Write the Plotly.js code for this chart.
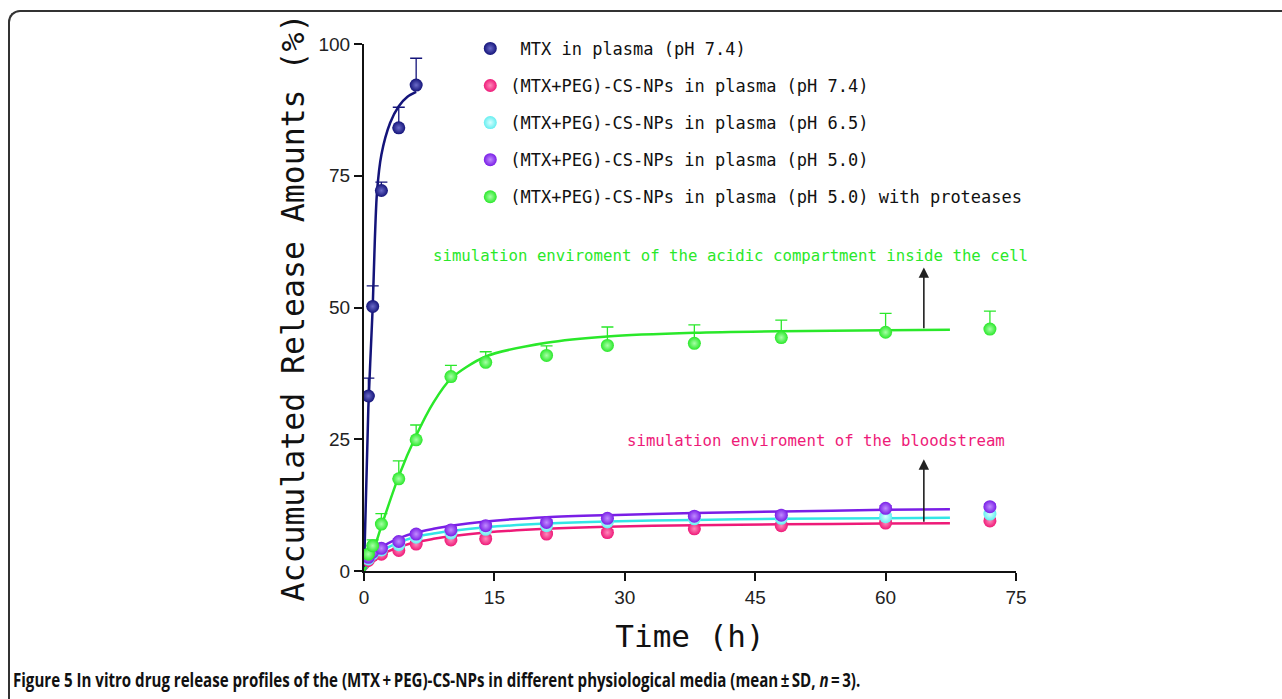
<!DOCTYPE html>
<html>
<head>
<meta charset="utf-8">
<script src="https://cdn.plot.ly/plotly-3.0.1.min.js"></script>
<style>
  html, body { margin:0; padding:0; background:#fff; }
  #wrap { position:relative; width:1282px; height:699px; overflow:hidden; }
  #frame { position:absolute; left:8px; top:10px; width:1300px; height:720px;
           border-left:2px solid #333; border-top:2px solid #333; border-top-left-radius:12px; pointer-events:none; z-index:2; }
  #chart { position:absolute; left:0; top:0; width:1282px; height:699px; }
</style>
</head>
<body>
<div id="wrap">
  <div id="chart"></div>
  <div id="frame"></div>
</div>
<script>
// ---- data ----
const seriesNames = [
  "\u00a0MTX in plasma (pH 7.4)",
  "(MTX+PEG)-CS-NPs in plasma (pH 7.4)",
  "(MTX+PEG)-CS-NPs in plasma (pH 6.5)",
  "(MTX+PEG)-CS-NPs in plasma (pH 5.0)",
  "(MTX+PEG)-CS-NPs in plasma (pH 5.0) with proteases"
];
const seriesColors = ["#14147a", "#ee1a78", "#66eef0", "#7a1ee6", "#2ae82a"];
const lineColors   = ["#14147a", "#ee1a78", "#33e6e6", "#7a1ee6", "#2ae82a"];
const highlightColors = ["#6a6ac8", "#ff88bb", "#d8ffff", "#c08cff", "#a8ffa8"];

// measured points
const timeMTX = [0.5, 1, 2, 4, 6];
const mtxPlasma74 = [33.2, 50.2, 72.2, 84.1, 92.2];
const mtxPlasma74Err = [3.4, 3.9, 1.6, 3.9, 5.1];

const timeNP = [0.5, 1, 2, 4, 6, 10, 14, 21, 28, 38, 48, 60, 72];
const npPH74 = [2.0, 2.9, 3.2, 3.9, 5.1, 5.9, 6.1, 7.0, 7.3, 8.0, 8.6, 9.1, 9.5];
const npPH74Err = [0.4, 0.4, 0.4, 0.5, 0.5, 0.5, 0.5, 0.5, 0.5, 0.5, 0.5, 0.5, 0.5];
const npPH65 = [2.3, 3.3, 4.0, 5.0, 6.4, 7.2, 7.9, 8.6, 9.3, 9.9, 10.0, 10.3, 10.8];
const npPH65Err = [0.4, 0.4, 0.4, 0.5, 0.5, 0.5, 0.5, 0.5, 0.5, 0.5, 0.5, 0.5, 0.5];
const npPH50 = [2.6, 3.6, 4.3, 5.6, 7.0, 7.8, 8.6, 9.2, 10.0, 10.4, 10.6, 11.9, 12.2];
const npPH50Err = [0.4, 0.4, 0.4, 0.5, 0.5, 0.5, 0.5, 0.5, 0.5, 0.5, 0.5, 0.5, 0.5];
const npPH50Prot = [3.2, 4.8, 8.9, 17.5, 24.9, 36.9, 39.6, 40.9, 42.8, 43.2, 44.3, 45.3, 45.9];
const npPH50ProtErr = [0.8, 1.1, 2.0, 3.4, 2.8, 2.1, 2.0, 1.8, 3.5, 3.5, 3.3, 3.6, 3.4];

// fitted curves
const fitTimeMTX = [0, 0.5, 1, 1.25, 1.5, 2, 3, 4, 5, 6];
const fitMTX = [0, 31, 50, 63, 72, 79, 85, 88.2, 90, 90.9];

const fitTimeNP = [0, 1, 2, 4, 6, 8, 10, 14, 21, 28, 38, 48, 60, 67.4];
const fitPH74 = [0, 1.8, 3.1, 4.5, 5.5, 6.1, 6.6, 7.3, 8.0, 8.4, 8.7, 8.85, 9.0, 9.05];
const fitPH65 = [0, 2.3, 3.8, 5.4, 6.5, 7.1, 7.6, 8.3, 9.0, 9.4, 9.7, 9.9, 10.0, 10.1];
const fitPH50 = [0, 2.8, 4.5, 6.2, 7.3, 8.0, 8.6, 9.4, 10.2, 10.6, 11.0, 11.3, 11.6, 11.7];
const fitPH50Prot = [0, 3.5, 8.5, 18.0, 25.7, 32.0, 36.5, 40.7, 43.3, 44.5, 45.2, 45.5, 45.7, 45.8];

const xTicks = [0, 15, 30, 45, 60, 75];
const yTicks = [0, 25, 50, 75, 100];

const xTitle = "\u00a0Time (h)";
const yTitle = "Accumulated Release Amounts (%)\u00a0";
const noteAcid = "simulation enviroment of the acidic compartment inside the cell";
const noteBlood = "simulation enviroment of the bloodstream";
const caption = "<b>Figure 5 In vitro drug release profiles of the (MTX\u2009+\u2009PEG)-CS-NPs in different physiological media (mean\u2009\u00b1\u2009SD, <i>n</i>\u2009=\u20093).</b>";

// ---- traces ----
const mono = "DejaVu Sans Mono, Liberation Mono, monospace";
const fitSets = [
  [fitTimeMTX, fitMTX],
  [fitTimeNP, fitPH74],
  [fitTimeNP, fitPH65],
  [fitTimeNP, fitPH50],
  [fitTimeNP, fitPH50Prot]
];
const pointSets = [
  [timeMTX, mtxPlasma74, mtxPlasma74Err],
  [timeNP, npPH74, npPH74Err],
  [timeNP, npPH65, npPH65Err],
  [timeNP, npPH50, npPH50Err],
  [timeNP, npPH50Prot, npPH50ProtErr]
];

const traces = [];
fitSets.forEach((s, i) => {
  traces.push({
    type: "scatter", mode: "lines", x: s[0], y: s[1],
    line: { color: lineColors[i], width: 2.5, shape: "spline", smoothing: 0.8 },
    showlegend: false, hoverinfo: "skip", legendgroup: "g" + i
  });
});
pointSets.forEach((s, i) => {
  traces.push({
    type: "scatter", mode: "markers", x: s[0], y: s[1], name: seriesNames[i],
    legendgroup: "g" + i,
    marker: { size: 13, color: seriesColors[i],
              gradient: { type: "radial", color: highlightColors[i] },
              line: { width: 0 } },
    error_y: { type: "data", symmetric: false, array: s[2], arrayminus: s[2].map(() => 0),
               color: lineColors[i], thickness: 1.3, width: 6 }
  });
});

const layout = {
  width: 1282, height: 699,
  paper_bgcolor: "#fff", plot_bgcolor: "#fff",
  margin: { l: 364, r: 266, t: 44, b: 128 },
  showlegend: true,
  legend: {
    x: 0.163, y: 1.025, xanchor: "left", yanchor: "top",
    font: { family: mono, size: 17, color: "#111" },
    bgcolor: "rgba(0,0,0,0)", tracegroupgap: 12, traceorder: "grouped"
  },
  xaxis: {
    range: [0, 75], tickvals: xTicks, ticktext: xTicks.map(String),
    showline: true, linecolor: "#111", linewidth: 2,
    ticks: "outside", ticklen: 8, tickwidth: 2, tickcolor: "#111",
    showgrid: false, zeroline: false,
    tickfont: { family: "Liberation Sans, Arial, sans-serif", size: 19, color: "#222" },
    title: { text: xTitle, font: { family: mono, size: 31, color: "#111" }, standoff: 19 },
    automargin: false
  },
  yaxis: {
    range: [0, 100], tickvals: yTicks, ticktext: yTicks.map(String),
    showline: true, linecolor: "#111", linewidth: 2,
    ticks: "outside", ticklen: 8, tickwidth: 2, tickcolor: "#111",
    showgrid: false, zeroline: false,
    tickfont: { family: "Liberation Sans, Arial, sans-serif", size: 19, color: "#222" },
    title: { text: yTitle, font: { family: mono, size: 31.5, color: "#111" }, standoff: 4 },
    automargin: false
  },
  annotations: [
    { x: 42.2, y: 59.8, xref: "x", yref: "y", text: noteAcid, showarrow: false,
      font: { family: mono, size: 15.7, color: "#2ae82a" } },
    { x: 52.05, y: 24.7, xref: "x", yref: "y", text: noteBlood, showarrow: false,
      font: { family: mono, size: 15.7, color: "#ee1a78" } },
    { x: 64.4, y: 57.6, ax: 64.4, ay: 45.8, xref: "x", yref: "y", axref: "x", ayref: "y",
      text: "", showarrow: true, arrowhead: 2, arrowsize: 1.3, arrowwidth: 1.6, arrowcolor: "#222", standoff: 0 },
    { x: 64.4, y: 21.2, ax: 64.4, ay: 9.05, xref: "x", yref: "y", axref: "x", ayref: "y",
      text: "", showarrow: true, arrowhead: 2, arrowsize: 1.3, arrowwidth: 1.6, arrowcolor: "#222", standoff: 0 },
    { x: -0.541, y: -0.207, xref: "paper", yref: "paper", xanchor: "left", yanchor: "middle",
      text: caption, showarrow: false, align: "left",
      font: { family: "Liberation Sans Narrow, Open Sans, Arial Narrow, sans-serif", size: 19, color: "#111" } }
  ]
};

Plotly.newPlot("chart", traces, layout, { displayModeBar: false, staticPlot: true }).then(gd => {
  // condense the caption horizontally so it matches the narrow typeface of the original
  const texts = gd.querySelectorAll(".annotation-text");
  texts.forEach(t => {
    if (t.textContent.indexOf("Figure 5") !== 0) return;
    const bb = t.getBBox();
    const target = 848;
    const sx = Math.min(1, target / bb.width);
    const x0 = bb.x;
    t.setAttribute("transform", "translate(" + x0 + ",0) scale(" + sx + ",1) translate(" + (-x0) + ",0)");
  });
});
</script>
</body>
</html>
